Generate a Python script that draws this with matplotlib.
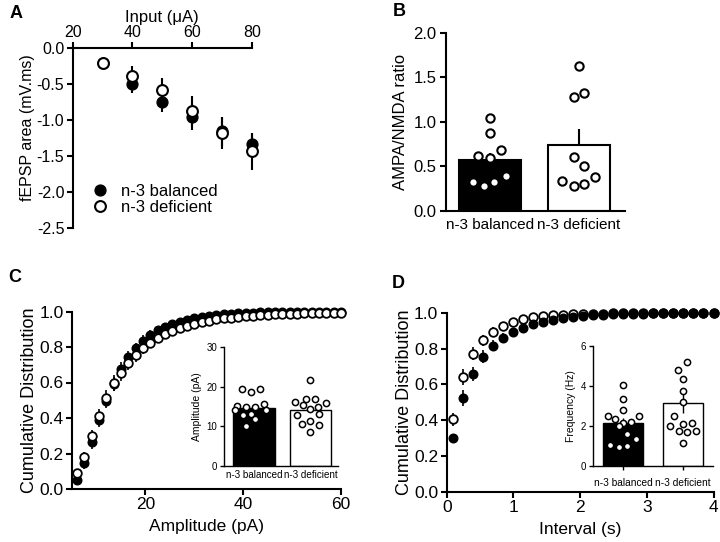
import matplotlib
matplotlib.use('Agg')
import matplotlib.pyplot as plt
from matplotlib.lines import Line2D

plt.rcParams['font.family'] = ['Liberation Sans', 'DejaVu Sans']
plt.rcParams['axes.unicode_minus'] = False

groups = ['n-3 balanced', 'n-3 deficient']

# ---------------- Panel A ----------------
a_input = [30, 40, 50, 60, 70, 80]
a_bal = [-0.21, -0.50, -0.74, -0.95, -1.15, -1.33]
a_bal_err = [0.07, 0.12, 0.15, 0.18, 0.20, 0.16]
a_def = [-0.21, -0.38, -0.58, -0.87, -1.18, -1.43]
a_def_err = [0.07, 0.14, 0.17, 0.21, 0.22, 0.26]

# ---------------- Panel B ----------------
b_means = [0.575, 0.74]
b_err = [0.08, 0.18]
b_bal_pts = [1.04, 0.88, 0.62, 0.59, 0.68, 0.33, 0.28, 0.33, 0.39]
b_bal_jit = [0.0, 0.0, -0.13, 0.0, 0.12, -0.19, -0.07, 0.05, 0.18]
b_def_pts = [1.63, 1.28, 1.32, 0.61, 0.51, 0.34, 0.28, 0.30, 0.38]
b_def_jit = [0.0, -0.06, 0.06, -0.06, 0.06, -0.19, -0.06, 0.06, 0.18]

# ---------------- Panel C ----------------
c_amp = [6, 7.5, 9, 10.5, 12, 13.5, 15, 16.5, 18, 19.5, 21, 22.5, 24, 25.5, 27,
         28.5, 30, 31.5, 33, 34.5, 36, 37.5, 39, 40.5, 42, 43.5, 45, 46.5, 48,
         49.5, 51, 52.5, 54, 55.5, 57, 58.5, 60]
c_bal = [0.05, 0.145, 0.263, 0.39, 0.495, 0.59, 0.675, 0.742, 0.795, 0.835,
         0.868, 0.893, 0.912, 0.928, 0.942, 0.953, 0.962, 0.970, 0.976, 0.981,
         0.985, 0.988, 0.990, 0.992, 0.994, 0.995, 0.996, 0.997, 0.997, 0.998,
         0.998, 0.999, 0.999, 0.999, 1.0, 1.0, 1.0]
c_bal_err = [0.02, 0.03, 0.035, 0.04, 0.04, 0.04, 0.04, 0.035, 0.03, 0.03,
             0.025, 0.02, 0.02, 0.015, 0.015, 0.012, 0.01, 0.01, 0.008, 0.007,
             0.006, 0.005, 0.005, 0.004, 0.004, 0.003, 0.003, 0.003, 0.002, 0.002,
             0.002, 0.002, 0.001, 0.001, 0.001, 0.001, 0.001]
c_def = [0.088, 0.18, 0.30, 0.41, 0.51, 0.595, 0.655, 0.71, 0.755, 0.795,
         0.825, 0.85, 0.872, 0.89, 0.906, 0.92, 0.93, 0.94, 0.948, 0.955,
         0.961, 0.966, 0.970, 0.974, 0.977, 0.980, 0.982, 0.984, 0.986, 0.987,
         0.988, 0.989, 0.990, 0.991, 0.992, 0.992, 0.993]
c_def_err = [0.02, 0.03, 0.035, 0.04, 0.045, 0.045, 0.045, 0.04, 0.04, 0.035,
             0.03, 0.03, 0.025, 0.02, 0.02, 0.018, 0.015, 0.013, 0.012, 0.01,
             0.01, 0.009, 0.008, 0.007, 0.007, 0.006, 0.006, 0.005, 0.005, 0.005,
             0.004, 0.004, 0.004, 0.003, 0.003, 0.003, 0.003]

c_in_means = [14.7, 14.2]
c_in_err = [0.7, 0.9]
c_in_bal = [19.5, 18.7, 19.5, 15.2, 14.9, 15.0, 15.6, 14.0, 14.2, 12.8, 13.0, 11.9, 10.0]
c_in_bal_jit = [-0.22, -0.06, 0.1, -0.3, -0.14, 0.02, 0.18, -0.34, 0.21, -0.19, -0.06, 0.02, -0.14]
c_in_def = [21.8, 17.0, 17.0, 16.1, 15.5, 16.0, 15.0, 14.3, 13.2, 12.9, 11.3, 10.7, 10.3, 8.5]
c_in_def_jit = [0.0, -0.08, 0.08, -0.27, -0.14, 0.28, 0.14, 0.0, 0.16, -0.24, 0.0, -0.15, 0.16, 0.0]

# ---------------- Panel D ----------------
d_int = [0.1, 0.25, 0.4, 0.55, 0.7, 0.85, 1.0, 1.15, 1.3, 1.45, 1.6, 1.75, 1.9,
         2.05, 2.2, 2.35, 2.5, 2.65, 2.8, 2.95, 3.1, 3.25, 3.4, 3.55, 3.7, 3.85, 4.0]
d_bal = [0.30, 0.523, 0.659, 0.756, 0.818, 0.862, 0.893, 0.918, 0.938, 0.952,
         0.963, 0.972, 0.979, 0.984, 0.988, 0.991, 0.993, 0.995, 0.996, 0.997,
         0.998, 0.998, 0.999, 0.999, 0.999, 1.0, 1.0]
d_bal_err = [0.02, 0.045, 0.04, 0.035, 0.03, 0.025, 0.02, 0.017, 0.014, 0.012,
             0.01, 0.008, 0.007, 0.006, 0.005, 0.004, 0.004, 0.003, 0.003, 0.002,
             0.002, 0.002, 0.001, 0.001, 0.001, 0.001, 0.001]
d_def = [0.405, 0.644, 0.772, 0.848, 0.895, 0.928, 0.95, 0.965, 0.975, 0.982,
         0.987, 0.991, 0.993, 0.995, 0.996, 0.997, 0.998, 0.998, 0.999, 0.999,
         0.999, 1.0, 1.0, 1.0, 1.0, 1.0, 1.0]
d_def_err = [0.035, 0.045, 0.035, 0.03, 0.025, 0.02, 0.015, 0.012, 0.01, 0.008,
             0.006, 0.005, 0.004, 0.003, 0.003, 0.002, 0.002, 0.002, 0.001, 0.001,
             0.001, 0.001, 0.001, 0.001, 0.001, 0.001, 0.001]

d_in_means = [2.15, 3.17]
d_in_err = [0.25, 0.5]
d_in_bal = [4.07, 3.33, 2.82, 2.5, 2.37, 2.5, 2.22, 2.14, 2.0, 1.58, 1.36, 1.03, 0.94, 1.02]
d_in_bal_jit = [0.0, 0.0, 0.0, -0.25, -0.13, 0.26, 0.13, 0.0, -0.07, 0.07, 0.22, -0.22, -0.07, 0.07]
d_in_def = [5.18, 4.8, 4.33, 3.75, 3.21, 2.51, 2.0, 2.12, 2.16, 1.76, 1.7, 1.76, 1.15]
d_in_def_jit = [0.07, -0.08, 0.0, 0.0, 0.0, -0.15, -0.22, 0.0, 0.15, -0.07, 0.07, 0.22, 0.0]

W, H = 720, 542
fig = plt.figure(figsize=(W / 100, H / 100), dpi=100)


def rect(l, r, t, b):
    return [l / W, 1 - b / H, (r - l) / W, (b - t) / H]


def style(ax, lw=1.5, tl=4, fs=11.5, pad=2):
    for s in ['top', 'right']:
        ax.spines[s].set_visible(False)
    for s in ['left', 'bottom']:
        ax.spines[s].set_linewidth(lw)
    ax.tick_params(width=lw, length=tl, labelsize=fs, direction='out', pad=pad)


# ---------- A ----------
axA = fig.add_axes(rect(72.7, 251.7, 48.3, 228.3))
for s in ['bottom', 'right']:
    axA.spines[s].set_visible(False)
for s in ['left', 'top']:
    axA.spines[s].set_linewidth(1.5)
axA.xaxis.tick_top()
axA.xaxis.set_label_position('top')
axA.tick_params(width=1.5, length=4, labelsize=11.5, direction='out', pad=2)
axA.errorbar(a_input, a_bal, yerr=a_bal_err, fmt='o', color='k', mfc='k', mec='k',
             ms=7.8, elinewidth=1.5, capsize=0, zorder=3, clip_on=False)
axA.errorbar(a_input, a_def, yerr=a_def_err, fmt='o', color='k', mfc='white', mec='k',
             ms=7.8, mew=1.5, elinewidth=1.5, capsize=0, zorder=4, clip_on=False)
axA.set_xlim(20, 80)
axA.set_ylim(-2.5, 0)
axA.set_xticks([20, 40, 60, 80])
axA.set_yticks([0, -0.5, -1.0, -1.5, -2.0, -2.5])
axA.set_yticklabels(['0.0', '-0.5', '-1.0', '-1.5', '-2.0', '-2.5'])
axA.set_xlabel('Input (μA)', fontsize=12, labelpad=2)
axA.set_ylabel('fEPSP area (mV.ms)', fontsize=11.5)
axA.yaxis.set_label_coords(-0.21, 0.557)
hA = [Line2D([], [], marker='o', ls='none', color='k', mfc='k', ms=7.8),
      Line2D([], [], marker='o', ls='none', color='k', mfc='white', mew=1.5, ms=7.8)]
axA.legend(hA, groups, loc='upper left', bbox_to_anchor=(0.105, 0.245), frameon=False,
           fontsize=12, handlelength=1.0, handletextpad=0.8, labelspacing=0.05,
           borderpad=0, borderaxespad=0)

# ---------- B ----------
axB = fig.add_axes(rect(446, 625, 32.7, 211))
style(axB, fs=12, pad=3)
axB.bar([0, 1], b_means, width=0.7, color=['k', 'white'], edgecolor='k', linewidth=1.5, zorder=2)
axB.errorbar([0, 1], b_means, yerr=[[0, 0], b_err], fmt='none', ecolor='k', elinewidth=1.5,
             capsize=0, zorder=3)
axB.scatter([0 + j for j in b_bal_jit], b_bal_pts, s=36, facecolor='white', edgecolor='k',
            linewidth=1.5, zorder=4)
axB.scatter([1 + j for j in b_def_jit], b_def_pts, s=36, facecolor='white', edgecolor='k',
            linewidth=1.5, zorder=4)
axB.set_xlim(-0.494, 1.517)
axB.set_ylim(0, 2.0)
axB.set_yticks([0, 0.5, 1.0, 1.5, 2.0])
axB.set_yticklabels(['0.0', '0.5', '1.0', '1.5', '2.0'])
axB.set_xticks([0, 1])
axB.set_xticklabels(groups, fontsize=11)
axB.tick_params(axis='x', length=0, pad=5)
axB.set_ylabel('AMPA/NMDA ratio', fontsize=12, labelpad=4)

# ---------- C ----------
axC = fig.add_axes(rect(72, 341, 311.5, 489))
style(axC, fs=12.5, pad=2)
axC.errorbar(c_amp, c_bal, yerr=c_bal_err, fmt='o', color='k', mfc='k', mec='k', ms=6.2,
             elinewidth=1.2, capsize=0, zorder=3, clip_on=False)
axC.errorbar(c_amp, c_def, yerr=c_def_err, fmt='o', color='k', mfc='white', mec='k', ms=6.2,
             mew=1.3, elinewidth=1.2, capsize=0, zorder=4, clip_on=False)
axC.set_xlim(5, 60)
axC.set_ylim(0, 1.0)
axC.set_xticks([20, 40, 60])
axC.set_yticks([0, 0.2, 0.4, 0.6, 0.8, 1.0])
axC.set_yticklabels(['0.0', '0.2', '0.4', '0.6', '0.8', '1.0'])
axC.set_xlabel('Amplitude (pA)', fontsize=12.5, labelpad=5)
axC.set_ylabel('Cumulative Distribution', fontsize=13, labelpad=1)

axCi = fig.add_axes(rect(224.3, 338, 347, 466))
style(axCi, lw=1.0, tl=3, fs=7)
axCi.bar([0, 1], c_in_means, width=0.74, color=['k', 'white'], edgecolor='k', linewidth=1.0, zorder=2)
axCi.errorbar([0, 1], c_in_means, yerr=[[0, 0], c_in_err], fmt='none', ecolor='k', elinewidth=1.0,
              capsize=0, zorder=3)
axCi.scatter([0 + j for j in c_in_bal_jit], c_in_bal, s=20, facecolor='white', edgecolor='k',
             linewidth=1.1, zorder=4)
axCi.scatter([1 + j for j in c_in_def_jit], c_in_def, s=20, facecolor='white', edgecolor='k',
             linewidth=1.1, zorder=4)
axCi.set_xlim(-0.53, 1.49)
axCi.set_ylim(0, 30)
axCi.set_yticks([0, 10, 20, 30])
axCi.set_xticks([0, 1])
axCi.set_xticklabels(groups, fontsize=7.1)
axCi.tick_params(axis='x', length=0, pad=3)
axCi.set_ylabel('Amplitude (pA)', fontsize=7.5, labelpad=3)

# ---------- D ----------
axD = fig.add_axes(rect(446.7, 713.5, 313, 491.7))
style(axD, fs=12.5, pad=2)
axD.errorbar(d_int, d_def, yerr=d_def_err, fmt='o', color='k', mfc='white', mec='k', ms=6.2,
             mew=1.3, elinewidth=1.2, capsize=0, zorder=3, clip_on=False)
axD.errorbar(d_int, d_bal, yerr=d_bal_err, fmt='o', color='k', mfc='k', mec='k', ms=6.2,
             elinewidth=1.2, capsize=0, zorder=4, clip_on=False)
axD.set_xlim(0, 4)
axD.set_ylim(0, 1.0)
axD.set_xticks([0, 1, 2, 3, 4])
axD.set_yticks([0, 0.2, 0.4, 0.6, 0.8, 1.0])
axD.set_yticklabels(['0.0', '0.2', '0.4', '0.6', '0.8', '1.0'])
axD.set_xlabel('Interval (s)', fontsize=12.5, labelpad=5)
axD.set_ylabel('Cumulative Distribution', fontsize=13, labelpad=1)

axDi = fig.add_axes(rect(593, 713, 346, 466))
style(axDi, lw=1.0, tl=3, fs=7)
axDi.bar([0, 1], d_in_means, width=0.67, color=['k', 'white'], edgecolor='k', linewidth=1.0, zorder=2)
axDi.errorbar([0, 1], d_in_means, yerr=[[0, d_in_err[1]], d_in_err], fmt='none', ecolor='k',
              elinewidth=1.0, capsize=0, zorder=3)
axDi.scatter([0 + j for j in d_in_bal_jit], d_in_bal, s=20, facecolor='white', edgecolor='k',
             linewidth=1.1, zorder=4)
axDi.scatter([1 + j for j in d_in_def_jit], d_in_def, s=20, facecolor='white', edgecolor='k',
             linewidth=1.1, zorder=4)
axDi.set_xlim(-0.5, 1.5)
axDi.set_ylim(0, 6)
axDi.set_yticks([0, 2, 4, 6])
axDi.set_xticks([0, 1])
axDi.set_xticklabels(groups, fontsize=7.3)
axDi.tick_params(axis='x', length=3, pad=6)
axDi.set_ylabel('Frequency (Hz)', fontsize=7.5, labelpad=3)

# panel letters
for lab, x, y in [('A', 10, 13), ('B', 393, 12), ('C', 8, 278), ('D', 392, 283)]:
    fig.text(x / W, 1 - y / H, lab, fontsize=13, fontweight='bold', ha='left', va='center')

fig.savefig('out.png', dpi=100)
